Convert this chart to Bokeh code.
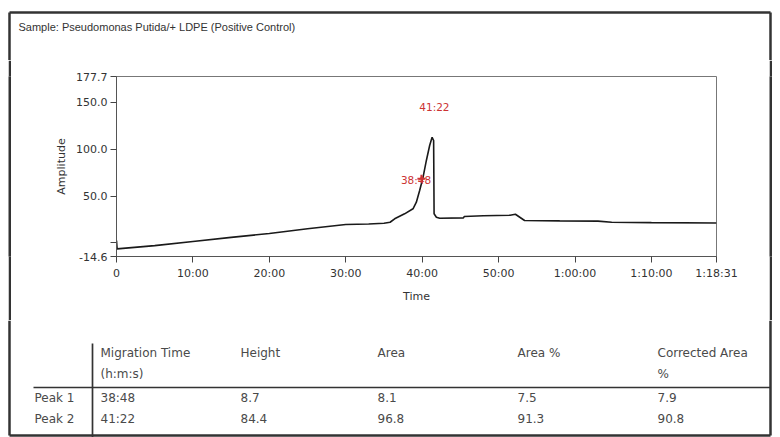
from bokeh.plotting import figure
from bokeh.layouts import column, row
from bokeh.models import Range1d, FixedTicker, PrintfTickFormatter, Spacer
from bokeh.core.properties import value
from bokeh.embed import file_html
from bokeh.resources import INLINE

# ---------------- data ----------------
title_text = "Sample: Pseudomonas Putida/+ LDPE (Positive Control)"

time_min = [0.0, 0.08, 5.0, 10.0, 15.0, 20.0, 25.0, 30.0, 33.0, 35.0, 35.8,
            36.4, 37.7, 38.8, 39.24, 39.67, 40.12, 40.55, 40.98, 41.3, 41.5,
            41.56, 41.86, 42.3, 45.4, 45.5, 48.0, 51.5, 52.2, 53.4, 58.0,
            63.0, 64.8, 70.0, 78.52]
amplitude = [2.5, -6.5, -3.0, 1.4, 5.8, 10.0, 15.0, 19.6, 20.2, 21.0, 22.0,
             25.7, 31.0, 36.4, 43.4, 55.9, 70.1, 88.0, 104.0, 112.8, 109.3,
             31.0, 27.4, 26.3, 26.7, 28.1, 29.0, 29.5, 30.5, 23.9, 23.5,
             23.2, 22.0, 21.6, 21.2]

y_ticks = [177.7, 150.0, 100.0, 50.0, 0.0, -14.6]
x_tick_seconds = [0, 600, 1200, 1800, 2400, 3000, 3600, 4200, 4711]
x_tick_labels = ["0", "10:00", "20:00", "30:00", "40:00", "50:00",
                 "1:00:00", "1:10:00", "1:18:31"]

# peak annotations on the trace
peak_marker_min = [39.9]
peak_marker_amp = [68.4]
peak_label_min = [39.2, 41.6]
peak_label_amp = [67.5, 145.0]
peak_label_text = ["38:48", "41:22"]

# results table
table_headers = ["Migration Time", "Height", "Area", "Area %", "Corrected Area"]
table_subheaders = ["(h:m:s)", "", "", "", "%"]
peak_names = ["Peak 1", "Peak 2"]
migration_times = ["38:48", "41:22"]
heights = ["8.7", "84.4"]
areas = ["8.1", "96.8"]
area_pcts = ["7.5", "91.3"]
corrected_area_pcts = ["7.9", "90.8"]

# ---------------- layout (pixels) ----------------
W, H = 780, 437
TOP_H = 60            # title strip
MID_H = 260           # chart strip
BOT_H = H - TOP_H - MID_H
FL, FR, FT, FB = 116, 716, 76, 256   # chart frame in page pixels
BOX_L, BOX_T, BOX_R, BOX_B = 9, 12, 770, 435
BORDER = "#333333"
BW = 2.5
EDGE_W = 3                     # width of the box's vertical edges in the chart band
GAP_L = BOX_L - 1              # white space left of left edge
GAP_R = W - (BOX_R + 2)        # white space right of right edge
CHART_X0 = GAP_L + EDGE_W + 9  # chart figure starts here
CHART_W = (BOX_R - 1 - 9) - CHART_X0
FONT = "DejaVu Sans"
X0, X1 = 0, x_tick_seconds[-1]
Y0, Y1 = y_ticks[-1], y_ticks[0]


def canvas(w, h):
    c = figure(width=w, height=h, x_range=Range1d(0, w), y_range=Range1d(h, 0),
               min_border=0, x_axis_location=None, y_axis_location=None,
               toolbar_location=None, output_backend="svg", title=None)
    c.grid.visible = False
    c.outline_line_color = None
    c.background_fill_color = "white"
    c.border_fill_color = "white"
    return c


def edge(h):
    e = canvas(EDGE_W, h)
    e.background_fill_color = BORDER
    e.border_fill_color = BORDER
    return e


# ---- top strip: title + top of box ----
top = canvas(W, TOP_H)
top.segment(x0=[BOX_L, BOX_L, BOX_R], y0=[BOX_T, BOX_T, BOX_T],
            x1=[BOX_R, BOX_L, BOX_R], y1=[BOX_T, TOP_H, TOP_H],
            line_color=BORDER, line_width=BW)
top.text(x=[18], y=[26], text=[title_text], text_font=value("Liberation Sans"),
         text_font_size="11px", text_color="#333333",
         text_align="left", text_baseline="middle")

# ---- chart ----
p = figure(width=CHART_W, height=MID_H, output_backend="svg", toolbar_location=None,
           title=None, x_range=Range1d(X0, X1), y_range=Range1d(Y0, Y1),
           min_border_left=FL - CHART_X0, min_border_right=CHART_X0 + CHART_W - FR,
           min_border_top=FT - TOP_H, min_border_bottom=TOP_H + MID_H - FB)
p.grid.visible = False
p.background_fill_color = "white"
p.border_fill_color = "white"
p.outline_line_color = "#777777"
p.outline_line_width = 1

p.xaxis.ticker = FixedTicker(ticks=x_tick_seconds)
p.xaxis.major_label_overrides = dict(zip(x_tick_seconds, x_tick_labels))
p.yaxis.ticker = FixedTicker(ticks=y_ticks)
p.yaxis.formatter = PrintfTickFormatter(format="%.1f")
p.yaxis.major_label_overrides = {0.0: ""}
p.xaxis.axis_label = "Time"
p.yaxis.axis_label = "Amplitude"
for ax in (p.xaxis, p.yaxis):
    ax.axis_line_color = "#555555"
    ax.major_tick_line_color = "#444444"
    ax.major_tick_out = 6
    ax.major_tick_in = 0
    ax.minor_tick_line_color = None
    ax.major_label_text_font = FONT
    ax.major_label_text_font_size = "11px"
    ax.major_label_text_color = "#333333"
    ax.axis_label_text_font = FONT
    ax.axis_label_text_font_size = "11px"
    ax.axis_label_text_font_style = "normal"
    ax.axis_label_text_color = "#333333"
p.xaxis.major_label_standoff = 4
p.xaxis.axis_label_standoff = 7
p.yaxis.major_label_standoff = 3
p.yaxis.axis_label_standoff = 5

time_s = [t * 60 for t in time_min]
p.line(time_s, amplitude, line_color="#1a1a1a", line_width=1.6)
p.scatter([t * 60 for t in peak_marker_min], peak_marker_amp, marker="cross",
          size=8, line_color="#d03838", line_width=2)
p.text([t * 60 for t in peak_label_min], peak_label_amp, text=peak_label_text,
       text_color="#cc3333", text_font=value(FONT), text_font_size="10.5px",
       text_align="center", text_baseline="middle")

middle = row(Spacer(width=GAP_L, height=MID_H), edge(MID_H),
             Spacer(width=CHART_X0 - GAP_L - EDGE_W, height=MID_H), p,
             Spacer(width=W - GAP_R - EDGE_W - CHART_X0 - CHART_W, height=MID_H),
             edge(MID_H), Spacer(width=GAP_R, height=MID_H), spacing=0)

# ---- bottom strip: table + bottom of box ----
bot = canvas(W, BOT_H)
oy = TOP_H + MID_H
bot.segment(x0=[BOX_L, BOX_R, BOX_L], y0=[0, 0, BOX_B - oy],
            x1=[BOX_L, BOX_R, BOX_R], y1=[BOX_B - oy, BOX_B - oy, BOX_B - oy],
            line_color=BORDER, line_width=BW)
bot.segment(x0=[33, 92], y0=[387 - oy, 343 - oy], x1=[BOX_R, 92], y1=[387 - oy, BOT_H],
            line_color="#333333", line_width=1.7)

col_x = [100, 240, 377, 517, 657]
row_y = [397, 418]
tx, ty, tt = [], [], []
for cx, h, s in zip(col_x, table_headers, table_subheaders):
    tx += [cx, cx]
    ty += [352 - oy, 373 - oy]
    tt += [h, s]
columns = [migration_times, heights, areas, area_pcts, corrected_area_pcts]
for i, name in enumerate(peak_names):
    tx.append(34)
    ty.append(row_y[i] - oy)
    tt.append(name)
    for cx, col in zip(col_x, columns):
        tx.append(cx)
        ty.append(row_y[i] - oy)
        tt.append(col[i])
bot.text(x=tx, y=ty, text=tt, text_font=value(FONT), text_font_size="12px",
         text_color="#4a4a4a", text_align="left", text_baseline="middle")

layout = column(top, middle, bot, spacing=0)
open("out.html", "w").write(file_html(layout, INLINE))
